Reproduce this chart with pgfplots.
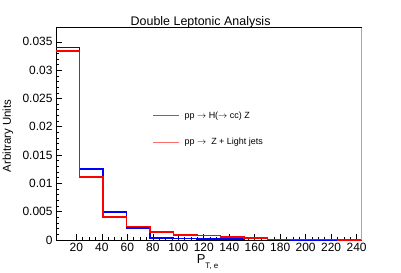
\documentclass[border=0pt]{standalone}
\usepackage{fontspec}
\setmainfont{Liberation Sans}
\usepackage{pgfplots}
\pgfplotsset{compat=1.18}
\definecolor{legblue}{RGB}{90,90,255}
\definecolor{legred}{RGB}{255,110,110}
\begin{document}
\begin{tikzpicture}
\path[use as bounding box] (-56bp,-33bp) rectangle (345bp,240bp);
\begin{axis}[
  at={(0,0)}, anchor=south west,
  scale only axis, width=305.7bp, height=212.3bp,
  xmin=4, xmax=244, ymin=0, ymax=0.0375,
  xtick={20,40,60,80,100,120,140,160,180,200,220,240},
  ytick={0,0.005,0.01,0.015,0.02,0.025,0.03,0.035},
  minor x tick num=3, minor y tick num=4,
  tick align=inside, xtick pos=bottom, ytick pos=left,
  major tick length=6bp, minor tick length=3bp,
  scaled y ticks=false,
  yticklabel style={/pgf/number format/fixed, /pgf/number format/precision=3},
  /pgf/number format/assume math mode=true,
  ticklabel style={font=\fontsize{12}{14}\selectfont},
  axis line style={line width=0.8bp},
  tick style={line width=0.6bp, black},
  clip mode=individual,
]
\addplot[const plot, blue, line width=1.6bp] coordinates {
(4,0.0340) (22.46,0.0125) (40.92,0.00495) (59.38,0.0021) (77.85,0.0004)
(96.31,0.0003) (114.77,0.0002) (133.23,0.0002) (151.69,0.00025) (170.15,0.0001)
(188.62,0.00005) (207.08,0.00003) (225.54,0.00002) (244,0.00002)};
\addplot[const plot, red, line width=1.6bp] coordinates {
(4,0.0334) (22.46,0.0111) (40.92,0.0041) (59.38,0.00235) (77.85,0.00145)
(96.31,0.0009) (114.77,0.0008) (133.23,0.0005) (151.69,0.00035) (170.15,0.0001)
(188.62,0.0001) (207.08,0.00007) (225.54,0.00005) (244,0.00005)};
\draw[legblue, line width=1bp] (rel axis cs:0.318,0.5855) -- (rel axis cs:0.403,0.5855);
\node[font=\fontsize{9}{10}\selectfont, anchor=west, inner sep=0pt] at (rel axis cs:0.420,0.5855) {pp $\rightarrow$ H($\rightarrow$ cc) Z};
\draw[legred, line width=1.2bp] (rel axis cs:0.318,0.460) -- (rel axis cs:0.403,0.460);
\node[font=\fontsize{9}{10}\selectfont, anchor=west, inner sep=0pt] at (rel axis cs:0.420,0.460) {pp $\rightarrow$\ \ Z + Light jets};
\draw[gray!70, line width=1bp] (rel axis cs:1,0) -- (rel axis cs:1,1);
\node[font=\fontsize{12.5}{14}\selectfont, anchor=base] at ([yshift=2bp]rel axis cs:0.473,1) {Double Leptonic Analysis};
\node[font=\fontsize{13}{14}\selectfont, anchor=base west, inner sep=0pt] at ([yshift=-23.3bp]rel axis cs:0.46,0) {P\raisebox{-0.7ex}{\fontsize{8}{9}\selectfont T, e}};
\node[font=\fontsize{11.5}{14}\selectfont, rotate=90, anchor=center] at ([xshift=-48bp]rel axis cs:0,0.49) {Arbitrary Units};
\end{axis}
\end{tikzpicture}
\end{document}
